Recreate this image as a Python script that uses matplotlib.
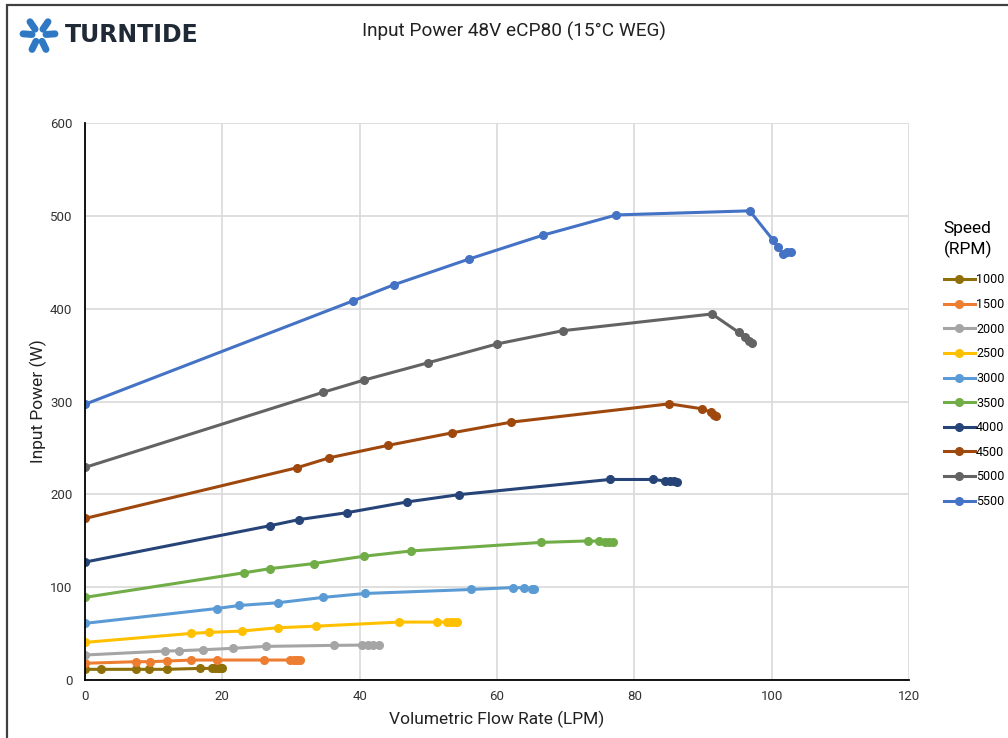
# Input power vs flow rate, eCP80 pump
import numpy as np
import matplotlib.pyplot as plt
from matplotlib.patches import Rectangle

plt.rcParams['font.family'] = ['Roboto', 'DejaVu Sans']

speeds = ['1000', '1500', '2000', '2500', '3000', '3500', '4000', '4500', '5000', '5500']
colors = ['#8f6f07', '#ed7d31', '#a5a5a5', '#ffc000', '#5b9bd5',
          '#70ad47', '#264478', '#9e480e', '#636363', '#4472c4']

x1000 = [0, 2.3, 7.4, 9.3, 11.9, 16.8, 18.5, 19.0, 19.4, 19.7, 19.9]
y1000 = [11.5, 11.5, 11.5, 11.5, 11.5, 12.5, 12.5, 12.6, 12.6, 12.6, 12.6]
x1500 = [0, 7.4, 9.4, 11.9, 15.5, 19.2, 26.1, 29.8, 30.4, 30.9, 31.3]
y1500 = [18, 19.7, 19.7, 20.4, 21.5, 21.5, 21.5, 21.5, 21.5, 21.5, 21.5]
x2000 = [0, 11.7, 13.7, 17.2, 21.5, 26.3, 36.3, 40.3, 41.2, 42.0, 42.8]
y2000 = [26.9, 31.2, 31.5, 32.6, 34.1, 36.2, 37.3, 37.6, 37.6, 37.6, 37.6]
x2500 = [0, 15.5, 18.1, 22.8, 28.1, 33.7, 45.8, 51.3, 52.7, 53.3, 53.9, 54.2]
y2500 = [40.5, 50.2, 51.3, 52.7, 56.3, 58, 62.4, 62.4, 62.4, 62.4, 62.4, 62.4]
x3000 = [0, 19.2, 22.5, 28.1, 34.7, 40.8, 56.2, 62.4, 63.9, 65.1, 65.4]
y3000 = [61, 77, 80.3, 83.2, 89, 93.2, 97.5, 99.6, 99.2, 98.5, 98.2]
x3500 = [0, 23.1, 27.0, 33.3, 40.6, 47.5, 66.4, 73.2, 74.9, 75.8, 76.3, 76.9]
y3500 = [89, 115.4, 120, 125.4, 133.3, 139, 148.2, 149.8, 149.5, 149, 148.8, 148.7]
x4000 = [0, 27.0, 31.1, 38.2, 46.9, 54.4, 76.4, 82.7, 84.5, 85.2, 85.8, 86.2]
y4000 = [127, 166.3, 172.7, 180.3, 191.8, 199.6, 216, 216, 214.5, 214, 214, 213.8]
x4500 = [0, 30.9, 35.6, 44.1, 53.5, 62.1, 85.1, 89.9, 91.1, 91.6, 91.9]
y4500 = [174, 228.7, 239.4, 252.7, 266.3, 277.8, 297.5, 292.1, 288.5, 285, 284]
x5000 = [0, 34.7, 40.6, 49.9, 60.0, 69.6, 91.3, 95.2, 96.1, 96.7, 97.2]
y5000 = [229, 310, 323, 341.6, 362, 376.3, 394.3, 374.5, 369.1, 365.6, 362.7]
x5500 = [0, 39.1, 45.0, 55.9, 66.7, 77.4, 96.8, 100.2, 100.9, 101.7, 102.3, 102.8]
y5500 = [297, 408.6, 425.8, 453.4, 479.2, 501, 505.4, 473.9, 466, 459, 460.6, 461.3]

xs = [x1000, x1500, x2000, x2500, x3000, x3500, x4000, x4500, x5000, x5500]
ys = [y1000, y1500, y2000, y2500, y3000, y3500, y4000, y4500, y5000, y5500]

fig = plt.figure(figsize=(10.08, 7.38), dpi=100)
ax = fig.add_axes([0.0843, 0.0786, 0.8175, 0.7547])

for s, c, x, y in zip(speeds, colors, xs, ys):
    ax.plot(x, y, '-o', color=c, lw=2.2, ms=5.5, label=s)

ax.set_xlim(0, 120)
ax.set_ylim(0, 600)
ax.set_xticks(np.arange(0, 121, 20))
ax.set_yticks(np.arange(0, 601, 100))
ax.grid(color='#d9d9d9', lw=1.2)
ax.set_axisbelow(True)
for side in ['top', 'right']:
    ax.spines[side].set_visible(False)
for side in ['left', 'bottom']:
    ax.spines[side].set_color('black')
    ax.spines[side].set_linewidth(1.3)
ax.tick_params(length=0, labelsize=9.5, colors='#333333')
ax.tick_params(axis='x', pad=7)
ax.tick_params(axis='y', pad=9)
ax.set_xlabel('Volumetric Flow Rate (LPM)', fontsize=12.5, color='#222222', labelpad=6)
ax.set_ylabel('Input Power (W)', fontsize=12.5, color='#222222', labelpad=2)

leg = fig.legend(loc='upper left', bbox_to_anchor=(0.925, 0.7164), frameon=False,
                 title='Speed\n(RPM)', fontsize=9, title_fontsize=12.5,
                 handlelength=2.5, handletextpad=0.1, labelspacing=0.93)
leg._legend_box.align = 'left'
leg._legend_box.sep = 11
leg.get_title().set_linespacing(1.4)

fig.text(0.51, 0.957, 'Input Power 48V eCP80 (15°C WEG)', ha='center', va='center',
         fontsize=13.7, color='#222222')

# logo
fig.text(0.064, 0.953, 'TURNTIDE', ha='left', va='center', fontsize=17,
         fontweight='bold', color='#1f2a36', family='DejaVu Sans')
cx, cy = 39, 35
for k in range(3):
    a = np.deg2rad(90 + 120 * k)
    for d in (-0.45, 0.45):
        b = a + d
        px, py = cx + 16 * np.cos(b), cy + 16 * np.sin(b)
        qx, qy = cx + 7 * np.cos(b), cy + 7 * np.sin(b)
        fig.add_artist(plt.Line2D([px / 1008, qx / 1008], [1 - py / 738, 1 - qy / 738],
                                  color='#2f78c4', lw=5, solid_capstyle='round'))

fig.add_artist(Rectangle((7 / 1008, -0.1), 1.2, 1.1 - 5 / 738, transform=fig.transFigure,
                         fill=False, ec='#404040', lw=1.6))

fig.savefig('out.png', dpi=100)
